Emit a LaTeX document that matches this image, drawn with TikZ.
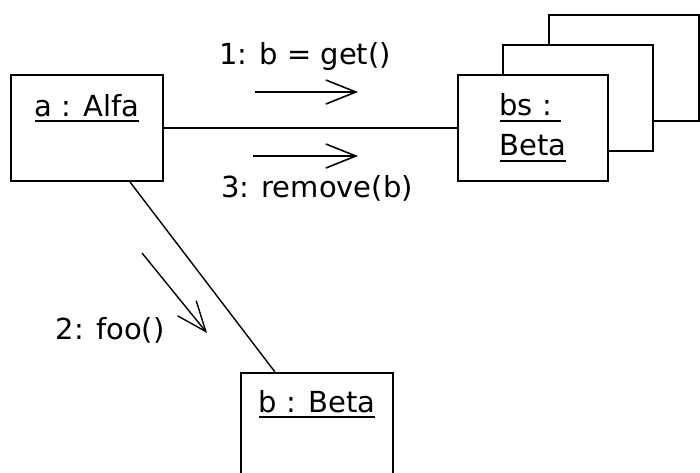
\documentclass[tikz,border=0pt]{standalone}
\usepackage{fontspec}
\setmainfont{DejaVu Sans}
\usetikzlibrary{arrows.meta,positioning}

\newcommand{\uline}[1]{\vtop{\hbox{#1}\kern4pt\hrule height 2pt}}

\begin{document}
\begin{tikzpicture}[x=1pt, y=-1pt,
    objbox/.style={draw, line width=2pt, fill=white, minimum width=152pt, minimum height=106pt, inner sep=0pt},
    objname/.style={font=\fontsize{29}{40}\selectfont, inner sep=0pt},
    msg/.style={line width=1.6pt, -{Straight Barb[length=30pt, width=24pt]}},
    link/.style={line width=2pt}]

  \useasboundingbox (0,0) rectangle (700,472);

  % objects
  \node[objbox] (alfa) at (87,128) {};
  \node[objname, anchor=base] (alfaname) at ([yshift=-42pt]alfa.north) {\uline{a : Alfa}};

  \node[objbox, minimum width=150pt] (bsback) at (624,68) {};
  \node[objbox, minimum width=150pt] (bsmid) at (578,98) {};
  \node[objbox, minimum width=150pt, objname, align=left] (bs) at (533,128) {\uline{bs :\ }\\\uline{Beta}};

  \node[objbox] (beta) at (317,426) {};
  \node[objname, anchor=base] (betaname) at ([yshift=-40pt]beta.north) {\uline{b : Beta}};

  % links
  \draw[link] (alfa.east) -- (bs.west);
  \draw[line width=1.4pt] ([xshift=43pt]alfa.south) -- ([xshift=-42pt]beta.north);

  % messages
  \coordinate (m1s) at (255,92);
  \coordinate (m1e) at (358,92);
  \coordinate (m3s) at (253,156);
  \coordinate (m3e) at (358,156);
  \coordinate (m2s) at (142,253);
  \coordinate (m2e) at (207,333);

  \draw[msg] (m1s) -- (m1e);
  \draw[msg] (m3s) -- (m3e);
  \draw[msg, line width=1.4pt] (m2s) -- (m2e);

  \node[objname, anchor=base] (m1) at (305,64) {1: b = get()};
  \node[objname, anchor=base] (m3) at (317,197) {3: remove(b)};
  \node[objname, anchor=base] (m2) at (110,339) {2: foo()};

\end{tikzpicture}
\end{document}
